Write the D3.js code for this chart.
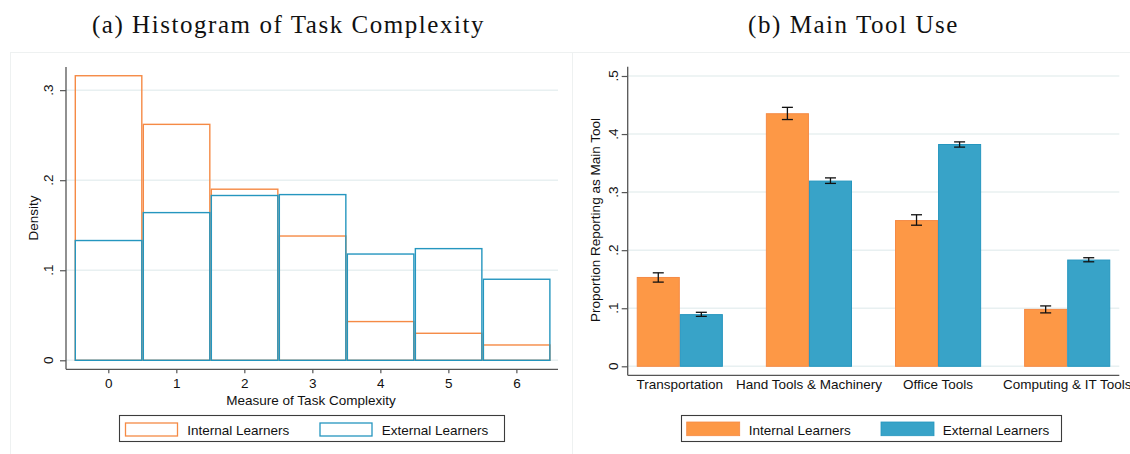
<!DOCTYPE html>
<html>
<head>
<meta charset="utf-8">
<script src="https://cdn.jsdelivr.net/npm/d3@7"></script>
<style>
  html, body { margin: 0; padding: 0; background: #fff; }
  svg { display: block; }
  text { font-family: "Liberation Sans", Arial, sans-serif; fill: #111; }
  .title { font-family: "Liberation Serif", "DejaVu Serif", serif; font-size: 25px; letter-spacing: 1.55px; }
</style>
</head>
<body>
<svg id="chart" width="1130" height="454"></svg>
<script>
// ---- Panel (a): histogram of task complexity (density per bin) ----
const complexityBins = [0, 1, 2, 3, 4, 5, 6];
const internalDensity = [0.316, 0.262, 0.190, 0.138, 0.043, 0.030, 0.017];
const externalDensity = [0.133, 0.164, 0.183, 0.184, 0.118, 0.124, 0.090];
const histYTicks = [0, 0.1, 0.2, 0.3];
const histYTickLabels = ["0", ".1", ".2", ".3"];

// ---- Panel (b): main tool use (proportion with 95% CI) ----
const toolCategories = ["Transportation", "Hand Tools & Machinery", "Office Tools", "Computing & IT Tools"];
const internalShare = [0.153, 0.435, 0.251, 0.098];
const internalLo = [0.145, 0.425, 0.243, 0.092];
const internalHi = [0.161, 0.446, 0.261, 0.104];
const externalShare = [0.089, 0.319, 0.382, 0.183];
const externalLo = [0.086, 0.315, 0.3775, 0.180];
const externalHi = [0.093, 0.3245, 0.3865, 0.187];
const toolYTicks = [0, 0.1, 0.2, 0.3, 0.4, 0.5];
const toolYTickLabels = ["0", ".1", ".2", ".3", ".4", ".5"];

const seriesNames = ["Internal Learners", "External Learners"];

const ORANGE_LINE = "#f58a45";
const BLUE_LINE = "#2596bf";
const ORANGE_FILL = "#fd9846";
const BLUE_FILL = "#38a3c8";
const GRID = "#e8f0f1";
const AXIS = "#555";

const svg = d3.select("#chart");

// faint graph-region frames
svg.append("rect").attr("x", 10.5).attr("y", 52.5).attr("width", 562).attr("height", 420)
  .attr("fill", "none").attr("stroke", "#eef1f1");
svg.append("rect").attr("x", 572.5).attr("y", 52.5).attr("width", 580).attr("height", 420)
  .attr("fill", "none").attr("stroke", "#eef1f1");

// titles
svg.append("text").attr("class", "title").attr("x", 288.5).attr("y", 33)
  .attr("text-anchor", "middle").text("(a) Histogram of Task Complexity");
svg.append("text").attr("class", "title").attr("x", 853.5).attr("y", 33)
  .attr("text-anchor", "middle").text("(b) Main Tool Use");

function rotatedYTicks(g, scale, ticks, labels, baselineX) {
  g.selectAll("text.ytl").data(ticks).join("text")
    .attr("class", "ytl")
    .attr("transform", (d) => `translate(${baselineX},${scale(d)}) rotate(-90)`)
    .attr("text-anchor", "middle")
    .style("font-size", "13.5px")
    .text((d, i) => labels[i]);
}

// ================= Panel (a) =================
{
  const x = d3.scaleLinear().domain([-0.622, 6.612]).range([66, 558]);
  const y = d3.scaleLinear().domain([-0.01, 0.3257]).range([369.3, 67]);
  const g = svg.append("g");

  // gridlines
  g.selectAll("line.grid").data(histYTicks).join("line")
    .attr("x1", 66).attr("x2", 558)
    .attr("y1", (d) => y(d)).attr("y2", (d) => y(d))
    .attr("stroke", GRID).attr("stroke-width", 1.5);

  // axes
  const yAxis = d3.axisLeft(y).tickValues(histYTicks).tickSize(6).tickFormat("");
  const yg = g.append("g").attr("transform", "translate(66,0)").call(yAxis);
  const xAxis = d3.axisBottom(x).tickValues(complexityBins).tickSize(4).tickFormat(d3.format("d"));
  const xg = g.append("g").attr("transform", "translate(0,369.3)").call(xAxis);
  [yg, xg].forEach((a) => {
    a.select(".domain").attr("stroke", AXIS).attr("stroke-width", 1.3);
    a.selectAll(".tick line").attr("stroke", AXIS).attr("stroke-width", 1.2);
  });
  yg.select(".domain").attr("d", `M0,${y(-0.01)}V${y(0.3257)}`);
  xg.select(".domain").attr("d", `M66,0H558`);
  xg.selectAll(".tick text").attr("y", 9).attr("dy", "0.71em")
    .style("font-size", "13.5px").attr("fill", "#111");
  rotatedYTicks(g, y, histYTicks, histYTickLabels, 53);

  // outlined bars: internal first, external on top
  const drawBars = (vals, color) => {
    g.append("g").selectAll("rect").data(vals).join("rect")
      .attr("x", (d, i) => x(complexityBins[i] - 0.5) + 1)
      .attr("width", (d, i) => x(complexityBins[i] + 0.5) - x(complexityBins[i] - 0.5) - 1.5)
      .attr("y", (d) => y(d))
      .attr("height", (d) => y(0) - y(d))
      .attr("fill", "none").attr("stroke", color).attr("stroke-width", 1.4);
  };
  drawBars(internalDensity, ORANGE_LINE);
  drawBars(externalDensity, BLUE_LINE);

  // axis titles
  g.append("text").attr("transform", "translate(38,218) rotate(-90)")
    .attr("text-anchor", "middle").style("font-size", "13.5px").text("Density");
  g.append("text").attr("x", 311).attr("y", 405)
    .attr("text-anchor", "middle").style("font-size", "13.5px").text("Measure of Task Complexity");

  // legend
  const lg = g.append("g");
  lg.append("rect").attr("x", 119.5).attr("y", 415.5).attr("width", 385).attr("height", 26)
    .attr("fill", "#fff").attr("stroke", "#3c3c3c").attr("stroke-width", 1.1);
  const sw = [125.5, 320];
  const tx = [187.3, 381.7];
  [ORANGE_LINE, BLUE_LINE].forEach((c, i) => {
    lg.append("rect").attr("x", sw[i]).attr("y", 423).attr("width", 52).attr("height", 13)
      .attr("fill", "#fff").attr("stroke", c).attr("stroke-width", 1.3);
    lg.append("text").attr("x", tx[i]).attr("y", 434.5).style("font-size", "13.5px").text(seriesNames[i]);
  });
}

// ================= Panel (b) =================
{
  const x0 = d3.scaleBand().domain(toolCategories).range([627.7, 1119.3])
    .paddingInner(0.333).paddingOuter(0.07);
  const x1 = d3.scaleBand().domain(seriesNames).range([0, x0.bandwidth()]);
  const y = d3.scaleLinear().domain([-0.0155, 0.516]).range([375.3, 66.7]);
  const g = svg.append("g");

  g.selectAll("line.grid").data(toolYTicks).join("line")
    .attr("x1", 627.7).attr("x2", 1119.3)
    .attr("y1", (d) => y(d)).attr("y2", (d) => y(d))
    .attr("stroke", GRID).attr("stroke-width", 1.5);

  const yAxis = d3.axisLeft(y).tickValues(toolYTicks).tickSize(6).tickFormat("");
  const yg = g.append("g").attr("transform", "translate(627.7,0)").call(yAxis);
  yg.select(".domain").attr("stroke", AXIS).attr("stroke-width", 1.3)
    .attr("d", `M0,${y(-0.0155)}V${y(0.516)}`);
  yg.selectAll(".tick line").attr("stroke", AXIS).attr("stroke-width", 1.2);
  g.append("line").attr("x1", 627.7).attr("x2", 1119.3).attr("y1", 375.3).attr("y2", 375.3)
    .attr("stroke", AXIS).attr("stroke-width", 1.3);
  rotatedYTicks(g, y, toolYTicks, toolYTickLabels, 617.5);

  const rows = toolCategories.map((c, i) => [
    { cat: c, s: seriesNames[0], v: internalShare[i], lo: internalLo[i], hi: internalHi[i], fill: ORANGE_FILL, line: ORANGE_LINE },
    { cat: c, s: seriesNames[1], v: externalShare[i], lo: externalLo[i], hi: externalHi[i], fill: BLUE_FILL, line: BLUE_LINE }
  ]).flat();

  g.append("g").selectAll("rect").data(rows).join("rect")
    .attr("x", (d) => x0(d.cat) + x1(d.s) + 0.5)
    .attr("width", x1.bandwidth() - 1)
    .attr("y", (d) => y(d.v))
    .attr("height", (d) => y(0) - y(d.v))
    .attr("fill", (d) => d.fill).attr("stroke", (d) => d.line).attr("stroke-width", 1);

  // confidence intervals
  const eb = g.append("g").attr("stroke", "#111").attr("stroke-width", 1.3);
  rows.forEach((d) => {
    const cx = x0(d.cat) + x1(d.s) + x1.bandwidth() / 2;
    eb.append("line").attr("x1", cx).attr("x2", cx).attr("y1", y(d.lo)).attr("y2", y(d.hi));
    [d.lo, d.hi].forEach((v) => {
      eb.append("line").attr("x1", cx - 5.5).attr("x2", cx + 5.5).attr("y1", y(v)).attr("y2", y(v));
    });
  });

  // category labels
  g.selectAll("text.cat").data(toolCategories).join("text")
    .attr("class", "cat")
    .attr("x", (d) => x0(d) + x0.bandwidth() / 2).attr("y", 389)
    .attr("text-anchor", "middle").style("font-size", "13.5px").text((d) => d);

  g.append("text").attr("transform", "translate(600,220) rotate(-90)")
    .attr("text-anchor", "middle").style("font-size", "13.5px").text("Proportion Reporting as Main Tool");

  // legend
  const lg = g.append("g");
  lg.append("rect").attr("x", 681.5).attr("y", 415.5).attr("width", 380).attr("height", 26)
    .attr("fill", "#fff").attr("stroke", "#3c3c3c").attr("stroke-width", 1.1);
  const sw = [686.7, 881];
  const tx = [748.7, 942.7];
  [[ORANGE_FILL, ORANGE_LINE], [BLUE_FILL, BLUE_LINE]].forEach((c, i) => {
    lg.append("rect").attr("x", sw[i]).attr("y", 422).attr("width", 53).attr("height", 13.7)
      .attr("fill", c[0]).attr("stroke", c[1]).attr("stroke-width", 0.8);
    lg.append("text").attr("x", tx[i]).attr("y", 435).style("font-size", "13.5px").text(seriesNames[i]);
  });
}
</script>
</body>
</html>
